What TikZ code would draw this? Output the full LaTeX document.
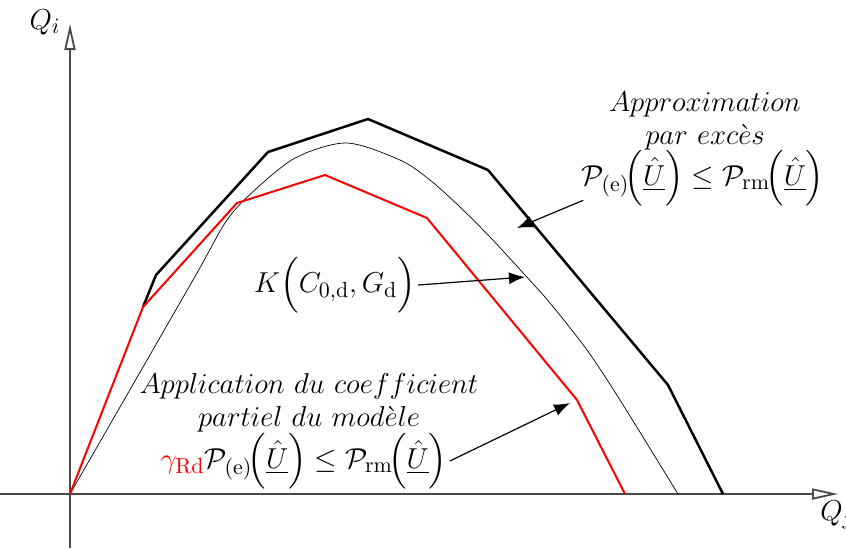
\documentclass[tikz,border=0pt]{standalone}
\usepackage{amsmath,amssymb}
\usepackage{xcolor}
\usepackage{tikz}
\usetikzlibrary{arrows.meta, positioning}
\definecolor{pmred}{HTML}{FF0000}
\definecolor{axisgray}{HTML}{4A4A4A}

\begin{document}
\begin{tikzpicture}[x=0.5pt, y=-0.5pt,
    axis/.style={axisgray, line width=0.9pt, -{Triangle[open, length=13pt, width=5.5pt]}},
    callout/.style={black, line width=0.6pt, -{Latex[length=8pt, width=6pt]}},
    lbl/.style={font=\fontsize{15.5}{16.5}\selectfont, align=center, inner sep=1pt}]
  \useasboundingbox (0,0) rectangle (846,548);

  % Axes
  \draw[axis] (70,548) -- (70,24);
  \draw[axis] (0,494) -- (838,494);
  \node[lbl] (qi) at (45,22) {$Q_i$};
  \node[lbl, anchor=west] (qj) at (818,515) {$Q_j$};

  % Domain K (thin curve)
  \draw[black, line width=0.35pt] plot[smooth, tension=0.5] coordinates
    {(70,494) (193,280) (227,220) (257,188) (297,157) (347,143) (400,160)
     (430,180) (460,207) (490,237) (525,275) (550,303) (587,350) (620,400)
     (678,494)};

  % Upper bound (black polygon)
  \draw[black, line width=1.25pt, line join=round]
    (143,307) -- (156,275) -- (268,152) -- (368,119) -- (488,170)
    -- (668,385) -- (723,494);

  % Lower bound (red polygon)
  \draw[pmred, line width=1pt, line join=round]
    (70,494) -- (143,307) -- (237,203) -- (325,175) -- (427,218)
    -- (577,400) -- (625,494);

  % Labels
  \node[lbl] (approxtxt) at (705,121) {$Approximation$\\$par\ exc\grave{e}s$};
  \node[lbl] (approxform) at (703,178)
    {$\mathcal{P}_{(\mathrm{e})}\!\Big(\underline{\hat{U}}\Big)\leq\mathcal{P}_{\mathrm{rm}}\!\Big(\underline{\hat{U}}\Big)$};
  \node[lbl] (klabel) at (335,285)
    {$K\Big(C_{0,\mathrm{d}},G_{\mathrm{d}}\Big)$};
  \node[lbl] (apptxt) at (309,403) {$Application\ du\ coefficient$\\$partiel\ du\ mod\grave{e}le$};
  \node[lbl] (appform) at (304,461)
    {$\textcolor{pmred}{\gamma_{\mathrm{Rd}}}\mathcal{P}_{(\mathrm{e})}\!\Big(\underline{\hat{U}}\Big)\leq\mathcal{P}_{\mathrm{rm}}\!\Big(\underline{\hat{U}}\Big)$};

  % Callouts
  \coordinate (approxtip) at (517,228);
  \coordinate (ktip) at (525,277);
  \coordinate (apptip) at (570,403);
  \draw[callout] ([shift={(4,-8)}]approxform.south west) -- (approxtip);
  \draw[callout] (klabel.east) -- (ktip);
  \draw[callout] (appform.east) -- (apptip);
\end{tikzpicture}
\end{document}
